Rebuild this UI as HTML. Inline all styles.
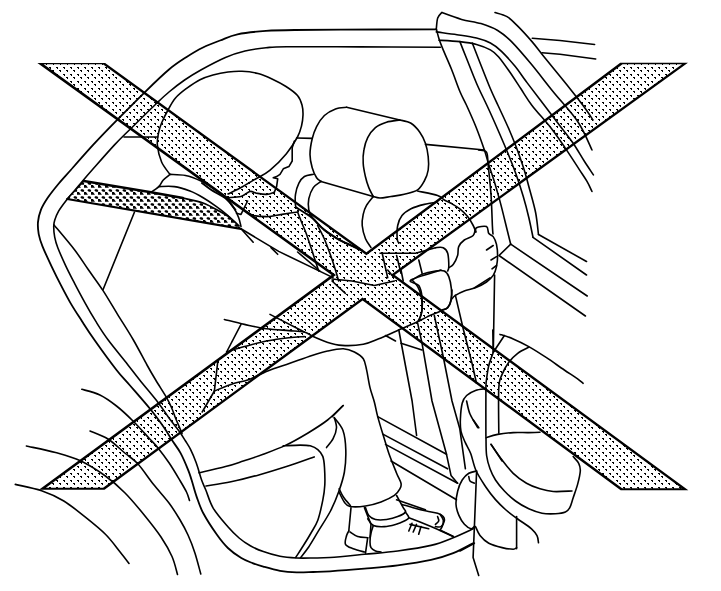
<!DOCTYPE html>
<html><head><meta charset="utf-8"><title>Diagram</title>
<style>
html,body{margin:0;padding:0;background:#fff;}
body{width:721px;height:591px;overflow:hidden;font-family:"Liberation Sans",sans-serif;}
svg{display:block}
.l{fill:none;stroke:#000;stroke-linecap:round;stroke-linejoin:round}
</style></head><body>
<svg width="721" height="591" viewBox="0 0 721 591">
<defs>
<pattern id="d1" width="7" height="7" patternUnits="userSpaceOnUse" x="3" y="0">
<path d="M0,0h2v2h-1v-1h-1z M4,4h2v2h-1v-1h-1z" fill="#000" shape-rendering="crispEdges"/>
</pattern>
<pattern id="d2" width="7" height="7" patternUnits="userSpaceOnUse" x="0" y="0">
<path d="M0,0h2v1h1v2h-2v-1h-1z M4,3h2v1h1v2h-2v-1h-1z" fill="#000" shape-rendering="crispEdges"/>
</pattern>
</defs>
<rect width="721" height="591" fill="#fff"/>

<path class="l" stroke-width="1.8" d="M436.3,29.3 C426.9,29.3 403.6,29.4 380.0,29.5 C356.4,29.6 314.0,29.8 295.0,30.0 C276.0,30.2 275.6,30.2 266.0,30.9 C256.4,31.6 245.2,32.7 237.5,34.3 C229.8,35.9 225.8,38.3 220.0,40.5 C214.2,42.7 208.6,44.8 203.0,47.5 C197.4,50.2 192.3,53.3 186.6,57.0 C180.9,60.7 175.8,63.8 169.0,69.5 C162.2,75.2 154.1,83.1 145.7,91.3 C137.3,99.5 127.2,109.7 118.4,118.6 C109.6,127.5 101.0,136.3 93.1,144.9 C85.2,153.5 76.5,163.5 70.8,170.0 C65.0,176.5 62.4,179.1 58.6,183.7 C54.8,188.3 50.8,193.2 47.9,197.5 C45.0,201.8 42.6,205.6 41.0,209.7 C39.4,213.8 38.4,217.8 38.0,221.9 C37.6,226.0 38.0,230.0 38.7,234.1 C39.5,238.2 40.3,240.9 42.5,246.3 C44.7,251.8 48.7,260.3 51.8,266.8 C54.9,273.3 57.6,278.8 60.9,285.1 C64.2,291.5 68.0,298.8 71.6,304.9 C75.2,311.0 78.5,315.8 82.3,321.7 C86.1,327.6 88.8,331.9 94.5,340.0 C100.2,348.1 110.6,362.4 116.5,370.0 C122.4,377.6 124.3,378.9 130.0,385.5 C135.7,392.1 145.0,402.6 150.8,409.8 C156.6,417.0 161.2,423.5 164.7,428.5 C168.2,433.5 168.9,435.5 171.6,439.6 C174.2,443.7 177.8,447.9 180.6,453.1 C183.4,458.3 186.6,466.1 188.4,470.6 C190.2,475.1 190.2,475.7 191.6,480.0 C193.0,484.3 194.6,491.1 196.6,496.6 C198.6,502.2 199.9,507.0 203.3,513.3 C206.7,519.6 212.7,528.8 216.8,534.6 C220.9,540.4 223.8,544.1 227.9,548.0 C232.0,551.9 237.2,555.6 241.3,558.1 C245.4,560.6 248.8,561.7 252.5,563.1 C256.2,564.5 258.7,565.3 263.3,566.6 C267.9,567.9 274.4,569.8 280.0,570.8 C285.6,571.8 291.1,572.2 296.6,572.4 C302.1,572.6 307.6,572.2 313.2,572.0 C318.8,571.8 321.5,571.8 330.0,571.3 C338.5,570.8 353.1,569.7 364.4,568.7 C375.7,567.7 386.6,566.9 397.7,565.4 C408.8,563.9 421.8,561.9 431.0,559.9 C440.2,557.9 446.2,556.0 453.2,553.2 C460.2,550.4 469.8,544.9 473.1,543.2"/>
<path class="l" stroke-width="1.6" d="M440.4,47.2 C427.0,47.2 385.6,47.0 360.0,46.9 C334.4,46.8 302.2,46.6 286.5,46.7 C270.8,46.9 272.9,47.1 266.0,47.8 C259.1,48.5 251.8,49.4 245.0,51.0 C238.2,52.6 232.8,54.3 225.4,57.5 C218.0,60.7 207.2,66.5 200.4,70.2 C193.6,74.0 189.8,76.4 184.6,80.0 C179.4,83.6 173.7,88.1 169.0,92.0 C164.3,95.9 162.9,97.3 156.4,103.5 C149.9,109.7 137.1,122.4 130.1,129.3 C123.1,136.2 120.8,138.1 114.5,144.9 C108.2,151.7 97.5,163.9 92.1,170.0 C86.7,176.1 85.0,178.1 82.2,181.4 C79.4,184.7 78.0,186.6 75.3,189.8 C72.6,193.0 69.0,196.9 66.2,200.5 C63.4,204.1 60.5,207.9 58.6,211.2 C56.7,214.5 55.5,217.8 54.7,220.3 C53.9,222.8 53.7,223.6 53.7,226.4 C53.7,229.2 54.0,233.5 54.7,237.1 C55.4,240.7 56.0,243.1 57.8,247.8 C59.6,252.5 62.7,259.3 65.5,265.3 C68.3,271.3 71.4,277.2 74.7,283.6 C78.0,290.0 81.8,297.0 85.3,303.4 C88.8,309.8 92.2,315.6 96.0,321.7 C99.8,327.8 102.9,332.9 108.2,340.0 C113.5,347.1 122.3,357.7 127.6,364.4 C132.8,371.1 134.6,373.6 139.7,380.0 C144.8,386.4 153.5,396.6 158.4,402.9 C163.3,409.2 165.5,413.3 169.0,418.0 C172.5,422.7 176.4,427.5 179.2,431.3 C181.9,435.1 183.6,438.0 185.5,441.0 C187.4,444.0 188.6,445.6 190.4,449.2 C192.2,452.8 194.3,457.7 196.2,462.8 C198.1,467.9 200.0,475.5 201.6,480.0 C203.2,484.5 203.9,485.3 205.8,490.0 C207.8,494.7 209.6,502.2 213.3,508.3 C217.0,514.4 223.6,521.8 227.9,526.8 C232.2,531.8 235.4,534.8 239.1,538.0 C242.8,541.2 246.3,543.5 250.3,545.8 C254.3,548.1 258.4,549.9 263.3,551.6 C268.2,553.4 274.4,555.2 280.0,556.3 C285.6,557.4 291.1,557.7 296.6,558.0 C302.1,558.3 307.6,558.1 313.2,558.0 C318.8,557.9 321.5,558.1 330.0,557.5 C338.5,556.9 353.1,555.4 364.4,554.3 C375.7,553.2 386.6,552.5 397.7,551.0 C408.8,549.5 421.8,547.6 431.0,545.4 C440.2,543.2 446.2,540.5 453.2,537.7 C460.2,534.9 469.8,530.3 473.1,528.8"/>
<path class="l" stroke-width="1.6" d="M54.0,224.9 C57.5,229.1 69.0,242.5 74.7,250.0 C80.4,257.5 83.7,263.1 88.4,269.8 C93.1,276.5 98.1,283.0 102.9,290.4 C107.7,297.8 112.3,305.8 117.4,314.1 C122.5,322.4 128.5,331.5 133.4,340.0 C138.3,348.5 143.3,358.3 147.0,365.0 C150.7,371.7 152.5,374.7 155.7,380.0 C158.9,385.3 163.3,392.0 166.0,396.6 C168.7,401.2 170.0,404.0 171.6,407.7 C173.2,411.4 174.4,415.3 175.8,418.8 C177.2,422.3 179.0,426.1 180.0,428.5 C181.0,430.9 181.7,432.6 182.0,433.4"/>
<path class="l" stroke-width="1.6" d="M134.4,212.2 L103.2,289.3"/>
<path class="l" stroke-width="1.6" d="M124.0,137.0 L157.7,137.0"/>
<path class="l" stroke-width="1.6" d="M170.0,174.5 C168.6,172.4 163.7,166.8 161.6,162.0 C159.5,157.2 157.9,150.2 157.4,145.4 C156.9,140.6 157.8,136.7 158.5,133.0 C159.2,129.3 160.0,126.8 161.6,123.0 C163.2,119.2 165.7,114.2 168.0,110.0 C170.3,105.8 172.4,101.6 175.5,98.0 C178.6,94.4 182.5,91.5 186.6,88.4 C190.7,85.4 195.6,81.9 200.0,79.7 C204.4,77.5 208.3,76.3 213.0,75.0 C217.7,73.7 223.2,72.6 228.0,72.0 C232.8,71.4 237.0,71.0 242.0,71.3 C247.0,71.5 253.0,72.2 258.0,73.5 C263.0,74.8 267.3,76.8 272.0,79.0 C276.7,81.2 281.8,83.8 286.0,86.5 C290.2,89.2 294.8,92.4 297.5,95.5 C300.2,98.6 301.1,101.8 302.0,105.0 C302.9,108.2 303.1,111.5 303.0,115.0 C302.9,118.5 302.4,122.3 301.5,126.0 C300.6,129.7 300.0,132.4 297.5,137.0 C295.0,141.6 291.0,148.1 286.4,153.7 C281.8,159.3 274.9,166.2 269.8,170.4 C264.7,174.6 260.6,175.9 256.0,178.7 C251.4,181.5 246.7,184.4 242.0,187.0 C237.3,189.6 230.3,192.8 228.0,194.0"/>
<path class="l" stroke-width="1.6" d="M296.6,138.0 L312.2,138.4"/>
<path class="l" stroke-width="1.6" d="M294.4,141.0 L292.2,147.7 L292.2,161.0 L288.9,166.6 L283.3,168.8 L280.0,174.3 L276.6,176.6 L273.2,177.7 L277.7,178.8 L276.6,186.6 L274.3,192.2"/>
<path class="l" stroke-width="1.6" d="M227.6,197.7 C229.8,197.5 237.3,197.6 241.0,196.6 C244.7,195.6 247.2,192.1 249.8,191.5 C252.4,190.9 253.7,192.7 256.5,193.2 C259.3,193.7 263.6,194.6 266.6,194.4 C269.6,194.2 273.0,192.6 274.3,192.2"/>
<path class="l" stroke-width="1.6" d="M247.6,201.0 L241.0,214.4 L236.5,213.2"/>
<path class="l" stroke-width="1.6" d="M247.6,212.1 C248.6,212.7 250.1,214.8 253.3,215.5 C256.5,216.2 262.9,216.6 266.6,216.6 C270.3,216.6 271.7,216.1 275.4,215.5 C279.1,214.9 285.1,213.8 288.8,213.2 C292.5,212.6 296.1,212.2 297.6,212.0"/>
<path class="l" stroke-width="1.6" d="M297.6,212.0 C298.3,213.9 300.5,219.5 302.0,223.2 C303.5,226.9 305.0,230.2 306.5,234.3 C308.0,238.4 309.5,243.2 311.0,247.6 C312.5,252.0 314.1,257.1 315.4,261.0 C316.7,264.9 318.1,269.3 318.7,271.0"/>
<path class="l" stroke-width="1.6" d="M317.6,225.5 C318.7,227.7 322.1,233.6 324.3,238.8 C326.5,244.0 329.1,251.3 331.0,256.5 C332.9,261.7 334.1,265.7 335.4,269.8 C336.7,273.9 338.1,279.1 338.7,281.0"/>
<path class="l" stroke-width="1.6" d="M297.6,252.0 L319.8,271.0"/>
<path class="l" stroke-width="1.6" d="M170.0,174.4 C172.6,174.6 180.3,174.4 185.5,175.5 C190.7,176.6 196.2,178.8 201.0,181.0 C205.8,183.2 210.2,186.0 214.3,188.8 C218.4,191.6 222.1,194.4 225.4,197.7 C228.7,201.0 232.1,205.5 234.3,208.8 C236.5,212.1 237.6,214.8 238.7,217.7 C239.8,220.6 240.6,225.0 241.0,226.5"/>
<path class="l" stroke-width="1.6" d="M170.0,174.4 C168.9,175.3 165.2,178.0 163.3,180.0 C161.4,182.0 160.9,184.6 158.8,186.6 C156.8,188.6 152.3,191.3 151.0,192.2"/>
<path class="l" stroke-width="1.6" d="M158.8,186.6 C161.4,186.6 169.2,185.9 174.4,186.6 C179.6,187.3 185.2,189.2 190.0,191.0 C194.8,192.8 198.8,195.1 203.2,197.7 C207.6,200.3 212.4,203.6 216.5,206.6 C220.6,209.6 224.3,212.4 227.6,215.4 C230.9,218.4 235.0,222.8 236.5,224.3"/>
<path class="l" stroke-width="1.6" d="M241.0,228.8 L253.2,242.2"/>
<path class="l" stroke-width="1.6" d="M241.0,228.8 L278.7,251.4 L333.0,277.6"/>
<path class="l" stroke-width="1.6" d="M271.0,247.6 L277.7,254.3"/>
<path class="l" stroke-width="1.6" d="M346.6,107.3 C344.8,107.6 339.2,107.5 335.5,108.9 C331.8,110.3 327.5,112.5 324.4,115.5 C321.2,118.5 318.6,122.7 316.6,126.6 C314.6,130.5 313.3,134.2 312.2,138.8 C311.1,143.4 310.0,149.6 310.0,154.4 C310.0,159.2 311.1,163.8 312.2,167.7 C313.3,171.6 315.1,175.4 316.6,177.7 C318.1,180.0 320.3,180.8 321.0,181.4"/>
<path class="l" stroke-width="1.6" d="M346.6,107.3 L399.8,120.0"/>
<path class="l" stroke-width="1.6" d="M399.8,120.0 C397.6,120.4 390.6,120.9 386.5,122.2 C382.4,123.5 378.5,125.1 375.4,127.7 C372.3,130.3 369.6,134.0 367.7,137.7 C365.8,141.4 364.6,145.8 363.9,150.0 C363.1,154.2 362.9,158.8 363.2,163.2 C363.4,167.6 364.5,172.4 365.4,176.5 C366.3,180.6 367.5,184.3 368.8,187.6 C370.1,190.9 372.5,195.0 373.2,196.5"/>
<path class="l" stroke-width="1.6" d="M399.8,120.0 C401.7,120.5 407.7,121.3 411.0,123.3 C414.3,125.3 417.4,128.9 419.8,132.2 C422.2,135.5 424.0,139.2 425.4,143.3 C426.8,147.4 427.7,152.2 428.2,156.6 C428.7,161.0 428.8,165.9 428.2,170.0 C427.6,174.1 426.1,177.7 424.3,181.0 C422.5,184.3 420.9,187.7 417.6,189.9 C414.3,192.1 408.7,193.2 404.3,194.3 C399.9,195.4 395.1,195.9 391.0,196.5 C386.9,197.1 383.0,198.0 380.0,198.0 C377.0,198.0 374.3,196.8 373.2,196.5"/>
<path class="l" stroke-width="1.6" d="M321.0,181.4 L373.2,196.5"/>
<path class="l" stroke-width="1.6" d="M425.4,144.4 L484.4,150.0"/>
<path class="l" stroke-width="1.6" d="M373.2,196.5 C372.1,198.0 368.2,202.4 366.5,205.4 C364.8,208.4 363.9,211.0 363.2,214.3 C362.5,217.7 361.8,221.4 362.2,225.5 C362.6,229.6 364.0,235.1 365.5,238.8 C367.0,242.5 370.1,246.1 371.0,247.6"/>
<path class="l" stroke-width="1.6" d="M417.6,191.0 C420.9,191.8 433.2,194.0 437.6,195.5 C442.1,197.0 442.1,198.7 444.3,200.0 C446.5,201.3 448.4,201.8 451.0,203.3 C453.6,204.8 457.0,206.6 459.8,208.8 C462.6,211.0 465.4,213.8 467.6,216.6 C469.8,219.4 471.8,222.9 473.2,225.5 C474.6,228.1 475.4,230.9 475.8,232.0"/>
<path class="l" stroke-width="1.6" d="M437.6,202.0 C435.4,202.4 428.7,203.3 424.3,204.4 C419.9,205.5 414.7,207.0 411.0,208.8 C407.3,210.7 404.2,212.7 402.0,215.5 C399.8,218.3 398.5,221.6 397.7,225.5 C396.9,229.4 397.0,235.9 397.2,238.8 C397.4,241.8 398.5,242.5 398.8,243.2"/>
<path class="l" stroke-width="1.6" d="M313.3,174.3 C311.8,174.7 306.8,175.0 304.4,176.5 C302.0,178.0 300.4,180.2 298.9,183.2 C297.4,186.2 296.1,190.6 295.5,194.3 C294.9,198.0 295.3,203.2 295.5,205.4 C295.7,207.6 296.3,207.3 296.5,207.7"/>
<path class="l" stroke-width="1.6" d="M321.0,181.4 C319.7,182.4 315.3,184.7 313.3,187.6 C311.3,190.5 309.6,195.0 308.8,198.7 C308.1,202.4 308.1,206.5 308.8,209.8 C309.5,213.2 310.6,215.5 313.2,218.8 C315.8,222.2 320.2,226.6 324.3,229.9 C328.4,233.2 333.2,236.2 337.6,238.8 C342.0,241.4 347.2,243.7 350.9,245.4 C354.6,247.1 358.5,248.2 360.0,248.8"/>
<path class="l" stroke-width="2.0" d="M296.5,207.7 C297.9,208.6 302.2,211.2 305.0,213.0 C307.8,214.8 310.0,216.0 313.2,218.8 C316.4,221.6 320.2,226.6 324.3,229.9 C328.4,233.2 333.2,236.2 337.6,238.8 C342.0,241.4 346.8,243.5 350.9,245.4 C355.0,247.3 360.1,249.7 362.0,250.5"/>
<path class="l" stroke-width="1.9" d="M201.9,183.0 C203.4,184.1 206.9,187.1 211.0,189.8 C215.1,192.5 222.2,195.7 226.3,199.0 C230.4,202.3 233.9,207.9 235.4,209.7"/>
<path class="l" stroke-width="1.6" d="M436.3,29.1 C436.5,27.2 436.8,20.8 437.7,18.0 C438.6,15.2 441.1,13.4 441.8,12.5"/>
<path class="l" stroke-width="1.6" d="M441.8,12.5 C445.1,13.7 455.1,17.5 461.6,19.4 C468.1,21.2 475.0,21.8 481.0,23.6 C487.0,25.5 492.6,27.5 497.7,30.5 C502.8,33.5 505.9,36.1 511.5,41.6 C517.0,47.1 524.1,55.5 531.0,63.8 C537.9,72.1 545.2,81.8 553.0,91.5 C560.8,101.2 571.5,112.2 578.0,122.0 C584.5,131.8 589.7,145.3 592.0,150.0"/>
<path class="l" stroke-width="1.6" d="M436.3,31.9 C439.8,32.4 450.3,33.7 457.0,34.7 C463.7,35.7 470.9,36.6 476.5,38.0 C482.1,39.4 486.2,40.8 490.4,43.0 C494.6,45.2 497.4,47.4 501.5,51.3 C505.6,55.2 511.1,61.5 515.3,66.6 C519.4,71.7 522.2,76.2 526.4,81.8 C530.6,87.3 534.8,92.7 540.3,99.9 C545.8,107.1 553.8,117.8 559.3,125.0 C564.8,132.2 568.9,137.0 573.0,143.0 C577.1,149.0 580.8,155.7 584.2,161.0 C587.6,166.3 591.9,172.6 593.4,174.9"/>
<path class="l" stroke-width="1.6" d="M439.0,40.2 C442.5,40.4 453.6,40.9 459.9,41.6 C466.1,42.3 471.4,43.0 476.5,44.4 C481.6,45.8 486.7,47.8 490.4,49.9 C494.1,52.0 495.5,53.2 498.7,56.9 C501.9,60.6 506.1,66.7 509.8,72.0 C513.5,77.3 517.2,83.2 520.9,88.8 C524.6,94.4 527.0,98.9 532.0,105.4 C537.0,111.9 545.5,121.0 551.0,128.0 C556.5,135.0 560.2,140.6 564.8,147.4 C569.4,154.2 575.0,162.9 578.7,168.6 C582.4,174.3 584.8,177.6 587.0,181.4 C589.2,185.2 591.2,189.8 592.0,191.5"/>
<path class="l" stroke-width="1.6" d="M436.3,29.0 C436.8,30.6 437.9,35.3 439.0,38.8 C440.1,42.3 441.1,44.8 443.2,49.9 C445.3,55.0 448.7,62.4 451.5,69.3 C454.3,76.2 457.4,85.5 459.9,91.5 C462.4,97.5 463.7,99.1 466.4,105.0 C469.1,110.9 473.0,119.5 476.0,127.0 C479.0,134.5 482.3,143.9 484.4,150.0 C486.5,156.1 486.9,158.7 488.5,163.8 C490.1,168.9 492.1,174.4 494.0,180.4 C495.9,186.4 497.7,193.0 499.6,199.9 C501.5,206.8 503.4,214.6 505.2,222.0 C507.0,229.4 509.8,240.5 510.7,244.2"/>
<path class="l" stroke-width="1.6" d="M459.9,41.6 C460.8,43.9 462.6,48.6 465.4,55.5 C468.2,62.4 472.9,74.8 476.5,83.2 C480.1,91.6 483.3,97.6 487.2,106.0 C491.1,114.4 495.9,125.2 499.6,133.7 C503.3,142.1 506.5,149.8 509.3,156.7 C512.1,163.6 514.0,168.4 516.3,175.0 C518.6,181.6 521.1,189.2 523.2,196.3 C525.3,203.4 527.2,210.7 528.8,217.5 C530.4,224.3 532.3,234.0 533.0,237.3"/>
<path class="l" stroke-width="1.6" d="M472.3,43.0 C473.5,46.0 476.3,53.4 479.3,61.0 C482.3,68.6 487.2,81.3 490.4,88.8 C493.6,96.3 495.1,99.1 498.3,106.0 C501.5,112.9 506.1,122.5 509.3,130.0 C512.5,137.5 515.2,144.1 517.7,151.0 C520.2,157.9 522.6,164.7 524.6,171.3 C526.6,177.9 528.1,183.9 530.0,190.8 C531.9,197.8 534.3,205.7 535.7,213.0 C537.1,220.3 538.0,230.9 538.5,234.5"/>
<path class="l" stroke-width="1.6" d="M495.0,12.5 C497.0,13.2 503.2,14.3 507.0,16.6 C510.8,18.9 513.8,22.2 518.0,26.4 C522.2,30.6 527.8,36.8 532.0,41.6 C536.2,46.5 539.3,50.9 543.0,55.5 C546.7,60.1 549.5,63.5 554.2,69.3 C558.9,75.0 566.0,83.7 571.0,90.0 C576.0,96.3 580.5,102.0 584.2,107.0 C587.9,112.0 591.5,117.8 593.0,120.0"/>
<path class="l" stroke-width="1.6" d="M532.3,38.3 L560.0,40.5 L594.6,44.5"/>
<path class="l" stroke-width="1.6" d="M542.0,52.7 L560.0,54.3 L595.7,59.0"/>
<path class="l" stroke-width="1.6" d="M538.5,234.5 L586.5,261.5"/>
<path class="l" stroke-width="1.6" d="M533.0,237.3 L586.5,275.0"/>
<path class="l" stroke-width="1.6" d="M510.7,244.2 L587.2,296.0"/>
<path class="l" stroke-width="1.6" d="M510.7,244.2 L499.0,255.5 L585.4,316.0"/>
<path class="l" stroke-width="1.6" d="M478.7,150.0 C480.0,150.4 484.9,149.6 486.5,152.2 C488.1,154.8 487.4,158.5 488.2,165.5 C488.9,172.5 490.3,184.3 491.0,194.4 C491.7,204.5 492.1,219.4 492.4,226.0 C492.7,232.6 492.9,232.7 493.0,234.0"/>
<path class="l" stroke-width="1.6" d="M494.6,275.0 L493.3,352.2"/>
<path class="l" stroke-width="1.6" d="M475.8,232.0 C475.9,231.3 474.7,228.6 476.5,227.7 C478.3,226.8 484.5,225.7 486.5,226.6 C488.5,227.5 487.6,231.6 488.7,233.3 C489.8,235.0 491.9,234.8 493.2,236.6 C494.5,238.4 495.8,241.2 496.5,244.4 C497.2,247.6 497.6,251.8 497.6,255.5 C497.6,259.2 497.2,263.3 496.5,266.6 C495.8,269.9 494.9,272.8 493.2,275.4 C491.5,278.0 489.5,279.9 486.5,282.0 C483.5,284.1 479.1,286.2 475.4,287.7 C471.7,289.2 467.6,289.7 464.3,291.0 C461.0,292.3 457.4,294.1 455.4,295.4 C453.3,296.7 452.6,298.2 452.0,298.8"/>
<path class="l" stroke-width="1.6" d="M486.5,250.0 L493.2,245.5"/>
<path class="l" stroke-width="1.6" d="M491.0,260.0 L496.5,256.6"/>
<path class="l" stroke-width="1.6" d="M492.0,268.8 L496.5,265.5"/>
<path class="l" stroke-width="1.6" d="M475.4,228.8 C475.0,229.9 475.0,233.6 473.2,235.5 C471.4,237.4 466.7,238.2 464.3,240.0 C461.9,241.8 459.8,244.0 458.7,246.6 C457.6,249.2 458.5,252.5 457.6,255.5 C456.7,258.5 454.7,262.4 453.2,264.4 C451.7,266.4 449.5,267.1 448.8,267.7"/>
<path class="l" stroke-width="1.6" d="M435.5,247.7 C436.8,247.7 441.2,246.8 443.2,247.7 C445.2,248.6 446.8,250.2 447.7,253.3 C448.6,256.5 448.8,263.7 448.8,266.6 C448.8,269.6 447.9,270.3 447.7,271.0"/>
<path class="l" stroke-width="1.6" d="M418.8,260.0 L422.1,273.2"/>
<path class="l" stroke-width="1.6" d="M412.1,279.9 C413.8,279.0 418.2,275.8 422.1,274.3 C426.0,272.8 431.8,271.6 435.5,271.0 C439.2,270.4 442.1,270.1 444.3,271.0 C446.5,271.9 447.6,273.6 448.8,276.6 C450.0,279.6 451.0,284.9 451.4,288.8 C451.8,292.7 451.6,296.8 451.0,299.9 C450.4,303.0 449.2,305.9 447.7,307.6 C446.2,309.3 443.0,309.5 442.1,309.9"/>
<path class="l" stroke-width="1.6" d="M412.1,279.9 C413.0,281.0 416.2,284.0 417.7,286.6 C419.2,289.2 420.3,292.1 421.0,295.4 C421.7,298.7 422.1,303.2 422.1,306.5 C422.1,309.8 421.9,312.6 421.0,315.4 C420.1,318.2 417.3,321.9 416.6,323.2"/>
<path class="l" stroke-width="1.6" d="M382.2,253.3 L387.7,277.7"/>
<path class="l" stroke-width="1.6" d="M396.6,255.5 L401.0,273.2"/>
<path class="l" stroke-width="1.6" d="M380.0,253.3 L415.5,253.3 L435.5,247.7"/>
<path class="l" stroke-width="1.6" d="M455.4,295.4 L463.2,328.7 L472.0,363.2 L476.5,383.2"/>
<path class="l" stroke-width="1.6" d="M490.0,277.8 L474.3,287.8"/>
<path class="l" stroke-width="1.6" d="M224.4,319.5 C227.7,320.3 237.4,322.8 244.4,324.4 C251.4,325.9 259.2,327.8 266.6,328.8 C274.0,329.8 282.5,330.1 288.8,330.6 C295.1,331.1 300.2,331.0 304.3,332.0 C308.4,333.0 309.5,334.9 313.2,336.6 C316.9,338.3 321.7,340.5 326.5,342.0 C331.3,343.5 335.9,345.0 342.0,345.4 C348.1,345.8 357.2,345.4 363.3,344.3 C369.4,343.2 373.2,341.0 378.8,338.8 C384.4,336.6 390.7,333.6 396.6,331.0 C402.5,328.4 409.1,325.7 414.3,323.3 C419.5,320.9 423.2,318.7 427.6,316.6 C432.1,314.6 437.7,312.5 441.0,311.0 C444.3,309.5 445.9,309.4 447.6,307.7 C449.3,306.0 450.3,303.9 451.0,301.0 C451.7,298.1 451.8,291.8 452.0,290.0"/>
<path class="l" stroke-width="1.6" d="M270.0,314.4 L304.3,332.0"/>
<path class="l" stroke-width="1.6" d="M241.0,324.4 L226.6,352.0"/>
<path class="l" stroke-width="1.6" d="M226.6,352.0 C229.6,351.1 237.7,348.4 244.4,346.6 C251.1,344.8 259.2,342.5 266.6,341.0 C274.0,339.5 282.5,338.4 288.8,337.7 C295.1,337.0 301.7,336.8 304.3,336.6"/>
<path class="l" stroke-width="1.6" d="M217.7,362.2 L214.4,391.0"/>
<path class="l" stroke-width="1.6" d="M214.4,391.0 L202.2,412.0"/>
<path class="l" stroke-width="1.6" d="M214.4,391.0 C217.7,389.7 228.9,385.1 234.4,383.3 C239.9,381.5 242.1,382.1 247.7,380.0 C253.2,377.9 260.7,373.8 267.7,371.0 C274.7,368.2 282.5,365.9 289.9,363.3 C297.3,360.7 305.7,357.6 312.0,355.5 C318.3,353.4 322.4,352.1 327.6,351.0 C332.8,349.9 338.8,348.6 343.3,348.8 C347.8,349.0 351.1,350.3 354.4,352.0 C357.7,353.7 361.3,355.8 363.3,358.8 C365.3,361.8 365.5,365.1 366.6,369.9 C367.7,374.7 368.7,382.2 370.0,387.6 C371.3,393.0 373.1,397.4 374.4,402.2 C375.7,407.0 376.2,411.1 377.7,416.6 C379.2,422.2 381.4,429.4 383.3,435.5 C385.2,441.6 386.6,446.9 388.8,453.2 C391.0,459.5 394.6,468.2 396.6,473.2 C398.6,478.2 400.4,480.6 401.0,483.2 C401.6,485.8 401.1,486.7 400.0,488.7 C398.9,490.7 397.6,493.2 394.4,495.4 C391.2,497.6 385.8,500.2 381.0,502.0 C376.2,503.8 370.7,505.2 365.5,506.0 C360.3,506.8 353.5,507.1 350.0,506.5 C346.5,505.9 346.3,504.7 344.4,502.2 C342.5,499.7 339.7,493.3 338.8,491.5"/>
<path class="l" stroke-width="1.6" d="M441.0,270.0 C436.0,271.7 414.7,277.4 411.0,280.0 C407.3,282.6 417.0,282.7 418.8,285.5 C420.6,288.3 421.5,292.5 422.0,296.6 C422.5,300.7 422.5,305.9 422.0,310.0 C421.5,314.1 419.3,319.2 418.8,321.0"/>
<path class="l" stroke-width="1.6" d="M332.0,279.0 L352.0,281.0 L374.4,285.5 L394.4,281.0"/>
<path class="l" stroke-width="1.6" d="M332.0,281.0 L345.4,293.3"/>
<path class="l" stroke-width="1.6" d="M387.7,270.0 L393.2,276.7"/>
<path class="l" stroke-width="1.6" d="M401.0,270.0 L403.2,281.0"/>
<path class="l" stroke-width="1.6" d="M398.8,330.0 L412.1,401.0 L416.6,435.5"/>
<path class="l" stroke-width="1.6" d="M417.7,323.3 L422.0,343.2 L432.0,401.0 L446.5,454.3 L451.0,475.4 L457.6,483.2"/>
<path class="l" stroke-width="1.6" d="M434.3,315.5 L443.2,356.5 L452.0,401.0 L459.8,428.8 L465.4,468.8"/>
<path class="l" stroke-width="1.6" d="M385.5,335.5 L395.5,341.0"/>
<path class="l" stroke-width="1.6" d="M401.0,343.2 L422.0,350.0"/>
<path class="l" stroke-width="1.6" d="M343.3,405.5 L332.2,416.6"/>
<path class="l" stroke-width="1.6" d="M377.7,416.6 L446.5,454.3"/>
<path class="l" stroke-width="1.6" d="M383.3,434.4 L447.6,468.8"/>
<path class="l" stroke-width="1.6" d="M385.5,444.4 L457.6,483.2"/>
<path class="l" stroke-width="1.6" d="M391.0,461.0 L456.5,499.8"/>
<path class="l" stroke-width="1.6" d="M396.6,499.8 L425.4,509.8"/>
<path class="l" stroke-width="1.6" d="M351.0,507.7 L348.8,531.0"/>
<path class="l" stroke-width="1.6" d="M364.4,507.7 L371.0,524.4 L370.0,537.7"/>
<path class="l" stroke-width="1.6" d="M348.8,531.0 C348.4,531.8 347.2,533.3 346.6,535.5 C346.1,537.7 344.4,542.1 345.5,544.3 C346.6,546.5 350.2,547.5 353.3,548.8 C356.4,550.1 362.5,551.5 364.4,552.0"/>
<path class="l" stroke-width="1.6" d="M350.0,532.0 C351.3,532.8 354.8,535.6 357.7,536.6 C360.6,537.6 366.0,537.5 367.7,537.7"/>
<path class="l" stroke-width="1.6" d="M367.7,537.7 L365.5,553.2"/>
<path class="l" stroke-width="1.6" d="M365.5,507.7 C366.1,509.0 367.1,513.5 368.8,515.5 C370.5,517.5 372.5,518.8 375.5,519.5 C378.5,520.2 382.9,520.0 386.6,519.5 C390.3,519.0 394.6,517.9 397.7,516.6 C400.8,515.4 404.5,513.5 405.4,512.0 C406.3,510.5 404.7,510.4 403.2,507.7 C401.7,504.9 397.7,497.5 396.6,495.5"/>
<path class="l" stroke-width="1.6" d="M367.7,518.8 C368.6,519.9 370.5,524.2 373.3,525.5 C376.1,526.8 380.7,526.8 384.4,526.6 C388.1,526.4 392.2,525.3 395.5,524.4 C398.8,523.5 402.1,522.1 404.3,521.0 C406.5,519.9 408.6,519.2 408.8,517.7 C409.0,516.2 406.0,513.0 405.4,512.0"/>
<path class="l" stroke-width="1.6" d="M373.3,525.5 C372.9,526.8 371.6,530.2 371.0,533.0 C370.4,535.8 370.0,539.5 370.0,542.0 C370.0,544.5 370.1,546.2 371.0,547.7 C371.9,549.2 373.8,550.3 375.5,551.0 C377.2,551.7 380.1,551.8 381.0,552.0"/>
<path class="l" stroke-width="1.6" d="M408.8,517.7 C410.7,518.4 416.3,520.5 420.0,522.0 C423.7,523.5 427.5,525.1 431.0,526.6 C434.5,528.1 437.3,529.3 441.0,531.0 C444.7,532.7 451.2,535.7 453.2,536.6"/>
<path class="l" stroke-width="1.6" d="M402.1,504.4 C404.0,504.9 409.1,506.6 413.2,507.7 C417.3,508.8 422.4,510.1 426.5,511.0 C430.6,511.9 434.8,512.4 437.6,513.3 C440.4,514.2 442.1,515.3 443.2,516.6 C444.3,517.9 444.7,519.3 444.3,521.0 C443.9,522.7 442.5,525.7 441.0,526.6 C439.5,527.5 436.3,526.6 435.4,526.6"/>
<path class="l" stroke-width="1.6" d="M437.6,516.6 C437.8,517.3 439.1,519.7 438.7,521.0 C438.3,522.3 435.9,523.8 435.4,524.4"/>
<path class="l" stroke-width="1.6" d="M410.0,524.4 L428.7,528.8"/>
<path class="l" stroke-width="1.6" d="M412.0,523.3 L408.8,531.0"/>
<path class="l" stroke-width="1.6" d="M416.5,524.4 L413.2,532.0"/>
<path class="l" stroke-width="1.6" d="M421.0,526.6 L418.7,534.3"/>
<path class="l" stroke-width="1.6" d="M500.0,334.4 C502.2,335.1 508.4,336.9 513.2,338.9 C518.0,340.9 523.2,343.5 528.8,346.6 C534.3,349.7 540.6,353.8 546.5,357.7 C552.4,361.6 559.1,366.5 564.3,370.0 C569.5,373.5 574.5,376.6 577.6,378.8 C580.7,381.0 582.2,382.6 583.1,383.3"/>
<path class="l" stroke-width="1.6" d="M504.4,335.5 L493.3,352.2"/>
<path class="l" stroke-width="1.6" d="M492.8,330.0 L493.3,352.2"/>
<path class="l" stroke-width="1.6" d="M528.8,347.3 C526.9,348.3 521.0,350.8 517.7,353.3 C514.4,355.8 511.4,358.7 508.8,362.2 C506.2,365.7 503.8,370.1 502.1,374.4 C500.4,378.6 499.4,377.9 498.8,387.7 C498.2,397.5 498.8,425.6 498.8,433.2"/>
<path class="l" stroke-width="1.6" d="M493.3,352.2 C492.6,354.4 489.9,361.1 488.8,365.5 C487.7,369.9 487.1,374.7 486.6,378.8 C486.1,382.9 486.0,380.4 485.9,390.0 C485.8,399.6 485.9,428.8 485.9,436.5"/>
<path class="l" stroke-width="1.6" d="M486.0,388.8 C484.2,389.1 478.7,389.3 475.5,390.4 C472.3,391.5 468.8,393.4 466.6,395.5 C464.4,397.6 463.2,399.3 462.2,403.2 C461.2,407.1 460.6,414.1 460.4,418.8 C460.2,423.5 460.2,427.4 461.0,431.3 C461.8,435.2 463.6,438.7 465.2,442.4 C466.8,446.1 468.9,448.8 470.7,453.5 C472.5,458.2 473.5,464.9 476.0,470.5 C478.5,476.1 482.6,482.1 485.8,487.0 C489.1,491.9 492.1,495.8 495.5,499.6 C498.9,503.4 502.3,506.8 506.0,510.0 C509.7,513.2 513.5,515.9 517.7,519.0 C522.0,522.1 528.3,526.0 531.5,528.8 C534.7,531.6 535.8,533.4 537.0,535.7 C538.2,538.0 538.2,541.5 538.5,542.7"/>
<path class="l" stroke-width="1.6" d="M466.6,401.0 C467.2,403.2 468.1,409.6 470.0,414.0 C471.9,418.4 476.4,425.3 477.7,427.6"/>
<path class="l" stroke-width="1.6" d="M486.0,437.8 C487.9,437.2 493.2,435.3 497.7,434.4 C502.2,433.5 508.0,432.9 513.2,432.6 C518.4,432.3 524.3,432.7 528.8,432.6 C533.3,432.5 538.1,432.3 540.0,432.2"/>
<path class="l" stroke-width="1.6" d="M573.2,456.6 C574.1,457.7 577.5,460.9 578.7,463.3 C579.9,465.7 580.5,467.5 580.3,471.0 C580.1,474.5 578.8,479.9 577.6,484.4 C576.4,488.8 574.5,493.8 573.2,497.7 C571.9,501.6 571.1,505.3 569.8,507.7 C568.5,510.1 567.8,511.0 565.4,512.0 C563.0,513.0 559.3,513.5 555.4,513.7 C551.5,513.9 546.4,514.0 542.0,513.2 C537.6,512.4 533.2,510.8 528.8,508.8 C524.4,506.8 519.6,504.0 515.5,501.0 C511.4,498.0 507.7,494.5 504.4,491.0 C501.1,487.5 497.9,483.7 495.5,480.0 C493.1,476.3 491.5,472.9 490.0,468.8 C488.5,464.7 487.3,460.7 486.6,455.5 C485.9,450.3 486.1,440.8 486.0,437.8"/>
<path class="l" stroke-width="1.6" d="M491.0,444.4 C492.9,447.0 498.4,455.2 502.1,460.0 C505.8,464.8 509.1,469.4 513.2,473.3 C517.3,477.2 522.0,480.6 526.5,483.2 C531.0,485.8 535.5,487.4 540.0,488.8 C544.5,490.2 547.9,491.1 553.2,491.5 C558.5,491.9 568.9,491.1 572.0,491.0"/>
<path class="l" stroke-width="1.6" d="M516.6,516.5 L516.6,548.7"/>
<path class="l" stroke-width="1.6" d="M475.5,526.5 C476.2,528.0 477.8,532.6 480.0,535.4 C482.2,538.2 485.1,541.2 488.8,543.2 C492.5,545.2 498.0,546.6 502.1,547.6 C506.2,548.6 510.8,549.2 513.2,549.2 C515.6,549.2 516.0,547.9 516.6,547.6"/>
<path class="l" stroke-width="1.6" d="M476.6,471.0 L474.4,526.5 L473.1,557.6 L478.7,575.4"/>
<path class="l" stroke-width="1.6" d="M476.6,471.0 C475.3,471.4 471.2,471.8 468.8,473.3 C466.4,474.8 464.1,477.1 462.2,480.0 C460.3,482.9 458.7,486.9 457.7,491.0 C456.7,495.1 455.8,500.2 456.0,504.3 C456.2,508.4 457.5,512.1 458.9,515.4 C460.3,518.7 462.4,522.1 464.4,524.3 C466.4,526.5 469.3,528.3 471.0,528.7 C472.7,529.1 473.8,526.9 474.4,526.5"/>
<path class="l" stroke-width="1.6" d="M468.8,476.6 C469.0,477.3 469.1,479.9 470.0,481.0 C470.9,482.1 473.7,482.8 474.4,483.2"/>
<path class="l" stroke-width="1.6" d="M440.0,514.3 C440.6,515.2 442.9,518.0 443.3,520.0 C443.7,522.0 442.8,524.8 442.2,526.5 C441.6,528.2 440.4,529.4 440.0,530.0"/>
<path class="l" stroke-width="1.6" d="M440.0,530.0 L453.3,536.5"/>
<path class="l" stroke-width="1.6" d="M460.0,551.0 L474.4,543.2"/>
<path class="l" stroke-width="1.6" d="M491.0,444.3 L502.1,461.0"/>
<path class="l" stroke-width="1.6" d="M473.3,420.0 L478.8,427.8"/>
<path class="l" stroke-width="1.6" d="M81.8,389.3 C84.8,390.2 94.1,392.2 99.9,395.0 C105.7,397.8 111.0,401.7 116.5,406.0 C122.0,410.3 127.5,415.5 133.0,421.0 C138.6,426.5 145.6,434.5 149.8,439.0 C154.0,443.5 155.0,444.2 158.2,448.2 C161.4,452.2 165.6,457.8 169.0,462.8 C172.4,467.8 175.8,473.5 178.7,478.4 C181.6,483.3 184.7,488.3 186.5,492.0 C188.3,495.7 189.0,499.1 189.5,500.5"/>
<path class="l" stroke-width="1.6" d="M90.0,431.0 C93.0,432.3 102.2,435.3 108.0,439.0 C113.8,442.7 119.8,448.9 124.8,453.0 C129.8,457.1 133.0,458.6 137.8,463.8 C142.6,469.0 148.2,477.8 153.4,484.3 C158.6,490.8 164.7,497.2 169.0,503.0 C173.3,508.8 176.3,513.7 179.5,519.0 C182.7,524.3 185.4,529.3 188.0,535.0 C190.6,540.7 192.9,546.7 195.0,553.2 C197.1,559.7 199.8,570.5 200.8,574.0"/>
<path class="l" stroke-width="1.6" d="M26.4,446.0 C31.2,447.1 46.5,450.0 55.5,452.5 C64.5,455.0 72.1,456.9 80.4,460.8 C88.7,464.7 98.0,470.7 105.4,476.0 C112.8,481.3 118.3,486.2 124.8,492.7 C131.3,499.2 138.2,507.6 144.2,515.0 C150.2,522.4 156.4,530.1 161.0,537.0 C165.6,543.9 169.2,550.2 172.0,556.5 C174.8,562.8 176.6,571.5 177.5,574.5"/>
<path class="l" stroke-width="1.6" d="M15.3,484.4 C19.7,485.5 33.5,488.0 41.6,490.8 C49.7,493.6 56.4,496.5 63.8,501.0 C71.2,505.5 79.1,512.2 86.0,517.7 C92.9,523.2 99.9,528.8 105.4,534.3 C111.0,539.8 115.4,546.1 119.3,551.0 C123.2,555.9 127.4,561.3 129.0,563.4"/>
<path class="l" stroke-width="1.6" d="M199.0,472.7 C203.4,471.7 218.1,468.6 225.5,466.6 C232.9,464.7 237.0,463.1 243.3,461.0 C249.6,458.9 256.2,456.9 263.2,454.3 C270.2,451.7 278.0,448.9 285.4,445.4 C292.8,441.9 300.6,437.4 307.6,433.2 C314.6,429.0 321.7,424.6 327.6,420.0 C333.5,415.4 340.5,407.9 343.1,405.5"/>
<path class="l" stroke-width="1.6" d="M206.0,486.0 C210.2,485.3 222.2,483.7 231.0,481.8 C239.8,479.9 249.6,477.4 258.8,474.9 C268.1,472.4 277.3,469.6 286.5,466.6 C295.7,463.6 309.6,458.5 314.2,456.9"/>
<path class="l" stroke-width="1.6" d="M283.2,445.8 C286.0,445.7 295.7,445.1 300.2,445.1 C304.7,445.1 307.3,445.1 310.2,445.8 C313.1,446.6 315.7,447.8 317.8,449.6 C319.9,451.4 321.7,453.4 322.8,456.4 C323.9,459.4 324.2,462.8 324.5,467.6 C324.8,472.4 325.1,479.6 324.8,485.0 C324.5,490.4 324.0,494.3 322.8,500.2 C321.6,506.1 319.8,514.7 317.8,520.2 C315.8,525.7 313.4,528.7 311.0,533.0 C308.6,537.3 305.7,541.9 303.1,546.0 C300.6,550.1 296.9,555.6 295.7,557.5"/>
<path class="l" stroke-width="1.6" d="M334.3,417.7 C335.8,419.8 341.1,425.1 343.0,430.5 C344.9,435.9 345.6,443.1 345.8,450.0 C346.0,456.9 345.6,465.1 344.4,472.0 C343.2,478.9 341.1,485.0 338.8,491.5 C336.5,498.0 334.0,504.3 330.5,511.0 C327.0,517.7 321.6,525.7 318.0,531.7 C314.4,537.7 311.6,542.7 308.7,547.0 C305.8,551.3 302.0,555.8 300.7,557.5"/>
<path class="l" stroke-width="1.6" d="M334.3,417.7 C334.7,419.4 336.7,424.2 336.5,427.7 C336.3,431.2 334.8,435.4 333.1,438.7 C331.4,442.0 327.6,446.1 326.5,447.6"/>
<path class="l" stroke-width="1.6" d="M339.2,488.8 C339.9,490.2 341.5,494.2 343.4,497.0 C345.2,499.8 349.1,504.0 350.3,505.4"/>
<path d="M83.8,181.0 L151.0,192.2 L183.0,198.0 L203.0,203.0 L219.0,211.0 L230.0,217.6 L239.0,226.0 L241.0,229.0 L67.2,199.0Z" fill="#fff" stroke="none"/>
<clipPath id="bc"><path d="M83.8,181 L151,192.2 L183,198 L203,203 L219,211 L230,217.6 L239,226 L241,229 L67.2,199Z"/></clipPath><path clip-path="url(#bc)" fill="#000" d="M81.2,182.2h1.7l1.2,.9v1.6h-2.3l-1.5-1.4zM88.2,182.2h1.7l1.2,.9v1.6h-2.3l-1.5-1.4zM95.2,182.2h1.7l1.2,.9v1.6h-2.3l-1.5-1.4zM102.2,182.2h1.7l1.2,.9v1.6h-2.3l-1.5-1.4zM77.0,185.1h2l1.95,2.6h-3.95zM74.2,189.2h1.7l1.2,.9v1.6h-2.3l-1.5-1.4zM84.0,185.1h2l1.95,2.6h-3.95zM81.2,189.2h1.7l1.2,.9v1.6h-2.3l-1.5-1.4zM91.0,185.1h2l1.95,2.6h-3.95zM88.2,189.2h1.7l1.2,.9v1.6h-2.3l-1.5-1.4zM98.0,185.1h2l1.95,2.6h-3.95zM95.2,189.2h1.7l1.2,.9v1.6h-2.3l-1.5-1.4zM105.0,185.1h2l1.95,2.6h-3.95zM102.2,189.2h1.7l1.2,.9v1.6h-2.3l-1.5-1.4zM112.0,185.1h2l1.95,2.6h-3.95zM109.2,189.2h1.7l1.2,.9v1.6h-2.3l-1.5-1.4zM119.0,185.1h2l1.95,2.6h-3.95zM116.2,189.2h1.7l1.2,.9v1.6h-2.3l-1.5-1.4zM123.2,189.2h1.7l1.2,.9v1.6h-2.3l-1.5-1.4zM130.2,189.2h1.7l1.2,.9v1.6h-2.3l-1.5-1.4zM137.2,189.2h1.7l1.2,.9v1.6h-2.3l-1.5-1.4zM144.2,189.2h1.7l1.2,.9v1.6h-2.3l-1.5-1.4zM70.0,192.1h2l1.95,2.6h-3.95zM67.2,196.2h1.7l1.2,.9v1.6h-2.3l-1.5-1.4zM77.0,192.1h2l1.95,2.6h-3.95zM74.2,196.2h1.7l1.2,.9v1.6h-2.3l-1.5-1.4zM84.0,192.1h2l1.95,2.6h-3.95zM81.2,196.2h1.7l1.2,.9v1.6h-2.3l-1.5-1.4zM91.0,192.1h2l1.95,2.6h-3.95zM88.2,196.2h1.7l1.2,.9v1.6h-2.3l-1.5-1.4zM98.0,192.1h2l1.95,2.6h-3.95zM95.2,196.2h1.7l1.2,.9v1.6h-2.3l-1.5-1.4zM105.0,192.1h2l1.95,2.6h-3.95zM102.2,196.2h1.7l1.2,.9v1.6h-2.3l-1.5-1.4zM112.0,192.1h2l1.95,2.6h-3.95zM109.2,196.2h1.7l1.2,.9v1.6h-2.3l-1.5-1.4zM119.0,192.1h2l1.95,2.6h-3.95zM116.2,196.2h1.7l1.2,.9v1.6h-2.3l-1.5-1.4zM126.0,192.1h2l1.95,2.6h-3.95zM123.2,196.2h1.7l1.2,.9v1.6h-2.3l-1.5-1.4zM133.0,192.1h2l1.95,2.6h-3.95zM130.2,196.2h1.7l1.2,.9v1.6h-2.3l-1.5-1.4zM140.0,192.1h2l1.95,2.6h-3.95zM137.2,196.2h1.7l1.2,.9v1.6h-2.3l-1.5-1.4zM147.0,192.1h2l1.95,2.6h-3.95zM144.2,196.2h1.7l1.2,.9v1.6h-2.3l-1.5-1.4zM154.0,192.1h2l1.95,2.6h-3.95zM151.2,196.2h1.7l1.2,.9v1.6h-2.3l-1.5-1.4zM161.0,192.1h2l1.95,2.6h-3.95zM158.2,196.2h1.7l1.2,.9v1.6h-2.3l-1.5-1.4zM165.2,196.2h1.7l1.2,.9v1.6h-2.3l-1.5-1.4zM172.2,196.2h1.7l1.2,.9v1.6h-2.3l-1.5-1.4zM179.2,196.2h1.7l1.2,.9v1.6h-2.3l-1.5-1.4zM186.2,196.2h1.7l1.2,.9v1.6h-2.3l-1.5-1.4zM70.0,199.1h2l1.95,2.6h-3.95zM77.0,199.1h2l1.95,2.6h-3.95zM84.0,199.1h2l1.95,2.6h-3.95zM91.0,199.1h2l1.95,2.6h-3.95zM88.2,203.2h1.7l1.2,.9v1.6h-2.3l-1.5-1.4zM98.0,199.1h2l1.95,2.6h-3.95zM95.2,203.2h1.7l1.2,.9v1.6h-2.3l-1.5-1.4zM105.0,199.1h2l1.95,2.6h-3.95zM102.2,203.2h1.7l1.2,.9v1.6h-2.3l-1.5-1.4zM112.0,199.1h2l1.95,2.6h-3.95zM109.2,203.2h1.7l1.2,.9v1.6h-2.3l-1.5-1.4zM119.0,199.1h2l1.95,2.6h-3.95zM116.2,203.2h1.7l1.2,.9v1.6h-2.3l-1.5-1.4zM126.0,199.1h2l1.95,2.6h-3.95zM123.2,203.2h1.7l1.2,.9v1.6h-2.3l-1.5-1.4zM133.0,199.1h2l1.95,2.6h-3.95zM130.2,203.2h1.7l1.2,.9v1.6h-2.3l-1.5-1.4zM140.0,199.1h2l1.95,2.6h-3.95zM137.2,203.2h1.7l1.2,.9v1.6h-2.3l-1.5-1.4zM147.0,199.1h2l1.95,2.6h-3.95zM144.2,203.2h1.7l1.2,.9v1.6h-2.3l-1.5-1.4zM154.0,199.1h2l1.95,2.6h-3.95zM151.2,203.2h1.7l1.2,.9v1.6h-2.3l-1.5-1.4zM161.0,199.1h2l1.95,2.6h-3.95zM158.2,203.2h1.7l1.2,.9v1.6h-2.3l-1.5-1.4zM168.0,199.1h2l1.95,2.6h-3.95zM165.2,203.2h1.7l1.2,.9v1.6h-2.3l-1.5-1.4zM175.0,199.1h2l1.95,2.6h-3.95zM172.2,203.2h1.7l1.2,.9v1.6h-2.3l-1.5-1.4zM182.0,199.1h2l1.95,2.6h-3.95zM179.2,203.2h1.7l1.2,.9v1.6h-2.3l-1.5-1.4zM189.0,199.1h2l1.95,2.6h-3.95zM186.2,203.2h1.7l1.2,.9v1.6h-2.3l-1.5-1.4zM196.0,199.1h2l1.95,2.6h-3.95zM193.2,203.2h1.7l1.2,.9v1.6h-2.3l-1.5-1.4zM200.2,203.2h1.7l1.2,.9v1.6h-2.3l-1.5-1.4zM207.2,203.2h1.7l1.2,.9v1.6h-2.3l-1.5-1.4zM105.0,206.1h2l1.95,2.6h-3.95zM112.0,206.1h2l1.95,2.6h-3.95zM119.0,206.1h2l1.95,2.6h-3.95zM126.0,206.1h2l1.95,2.6h-3.95zM133.0,206.1h2l1.95,2.6h-3.95zM130.2,210.2h1.7l1.2,.9v1.6h-2.3l-1.5-1.4zM140.0,206.1h2l1.95,2.6h-3.95zM137.2,210.2h1.7l1.2,.9v1.6h-2.3l-1.5-1.4zM147.0,206.1h2l1.95,2.6h-3.95zM144.2,210.2h1.7l1.2,.9v1.6h-2.3l-1.5-1.4zM154.0,206.1h2l1.95,2.6h-3.95zM151.2,210.2h1.7l1.2,.9v1.6h-2.3l-1.5-1.4zM161.0,206.1h2l1.95,2.6h-3.95zM158.2,210.2h1.7l1.2,.9v1.6h-2.3l-1.5-1.4zM168.0,206.1h2l1.95,2.6h-3.95zM165.2,210.2h1.7l1.2,.9v1.6h-2.3l-1.5-1.4zM175.0,206.1h2l1.95,2.6h-3.95zM172.2,210.2h1.7l1.2,.9v1.6h-2.3l-1.5-1.4zM182.0,206.1h2l1.95,2.6h-3.95zM179.2,210.2h1.7l1.2,.9v1.6h-2.3l-1.5-1.4zM189.0,206.1h2l1.95,2.6h-3.95zM186.2,210.2h1.7l1.2,.9v1.6h-2.3l-1.5-1.4zM196.0,206.1h2l1.95,2.6h-3.95zM193.2,210.2h1.7l1.2,.9v1.6h-2.3l-1.5-1.4zM203.0,206.1h2l1.95,2.6h-3.95zM200.2,210.2h1.7l1.2,.9v1.6h-2.3l-1.5-1.4zM210.0,206.1h2l1.95,2.6h-3.95zM207.2,210.2h1.7l1.2,.9v1.6h-2.3l-1.5-1.4zM214.2,210.2h1.7l1.2,.9v1.6h-2.3l-1.5-1.4zM221.2,210.2h1.7l1.2,.9v1.6h-2.3l-1.5-1.4zM147.0,213.1h2l1.95,2.6h-3.95zM154.0,213.1h2l1.95,2.6h-3.95zM161.0,213.1h2l1.95,2.6h-3.95zM168.0,213.1h2l1.95,2.6h-3.95zM175.0,213.1h2l1.95,2.6h-3.95zM172.2,217.2h1.7l1.2,.9v1.6h-2.3l-1.5-1.4zM182.0,213.1h2l1.95,2.6h-3.95zM179.2,217.2h1.7l1.2,.9v1.6h-2.3l-1.5-1.4zM189.0,213.1h2l1.95,2.6h-3.95zM186.2,217.2h1.7l1.2,.9v1.6h-2.3l-1.5-1.4zM196.0,213.1h2l1.95,2.6h-3.95zM193.2,217.2h1.7l1.2,.9v1.6h-2.3l-1.5-1.4zM203.0,213.1h2l1.95,2.6h-3.95zM200.2,217.2h1.7l1.2,.9v1.6h-2.3l-1.5-1.4zM210.0,213.1h2l1.95,2.6h-3.95zM207.2,217.2h1.7l1.2,.9v1.6h-2.3l-1.5-1.4zM217.0,213.1h2l1.95,2.6h-3.95zM214.2,217.2h1.7l1.2,.9v1.6h-2.3l-1.5-1.4zM224.0,213.1h2l1.95,2.6h-3.95zM221.2,217.2h1.7l1.2,.9v1.6h-2.3l-1.5-1.4zM228.2,217.2h1.7l1.2,.9v1.6h-2.3l-1.5-1.4zM189.0,220.1h2l1.95,2.6h-3.95zM196.0,220.1h2l1.95,2.6h-3.95zM203.0,220.1h2l1.95,2.6h-3.95zM210.0,220.1h2l1.95,2.6h-3.95zM217.0,220.1h2l1.95,2.6h-3.95zM214.2,224.2h1.7l1.2,.9v1.6h-2.3l-1.5-1.4zM224.0,220.1h2l1.95,2.6h-3.95zM221.2,224.2h1.7l1.2,.9v1.6h-2.3l-1.5-1.4zM231.0,220.1h2l1.95,2.6h-3.95zM228.2,224.2h1.7l1.2,.9v1.6h-2.3l-1.5-1.4zM235.2,224.2h1.7l1.2,.9v1.6h-2.3l-1.5-1.4zM231.0,227.1h2l1.95,2.6h-3.95zM238.0,227.1h2l1.95,2.6h-3.95z"/>
<path class="l" stroke-width="1.6" d="M67.2,199.0 L83.8,181.0"/>
<path class="l" stroke-width="2.4" d="M83.8,181.0 L151.0,192.2 L183.0,198.0"/>
<path class="l" stroke-width="1.8" d="M183.0,198.0 C186.3,198.8 197.0,200.8 203.0,203.0 C209.0,205.2 214.5,208.6 219.0,211.0 C223.5,213.4 226.7,215.1 230.0,217.6 C233.3,220.1 237.5,224.6 239.0,226.0"/>
<path class="l" stroke-width="2.2" d="M67.2,199.0 L241.0,228.8"/>
<path d="M40.5,63.7 L104.0,63.7 L366.4,253.8 L621.4,63.5 L685.0,63.5 L392.7,275.0 L685.0,489.2 L621.4,489.2 L362.6,298.9 L103.8,488.8 L42.4,488.8 L333.8,275.0Z" fill="url(#d1)" stroke="none"/>
<path d="M43.63,64.35 L102.85,64.35 L366.41,255.29 L622.54,64.15 L682.05,64.15 L390.66,274.99 L681.67,488.25 L622.13,488.25 L362.60,297.41 L103.07,487.85 L45.89,487.85 L336.01,274.99Z M37.37,63.05 L105.15,63.05 L366.39,252.31 L620.26,62.85 L687.95,62.85 L394.74,275.01 L688.33,490.15 L620.67,490.15 L362.60,300.39 L104.53,489.75 L38.91,489.75 L331.59,275.01Z" fill="#000" fill-rule="evenodd" stroke="none"/>
</svg></body></html>
